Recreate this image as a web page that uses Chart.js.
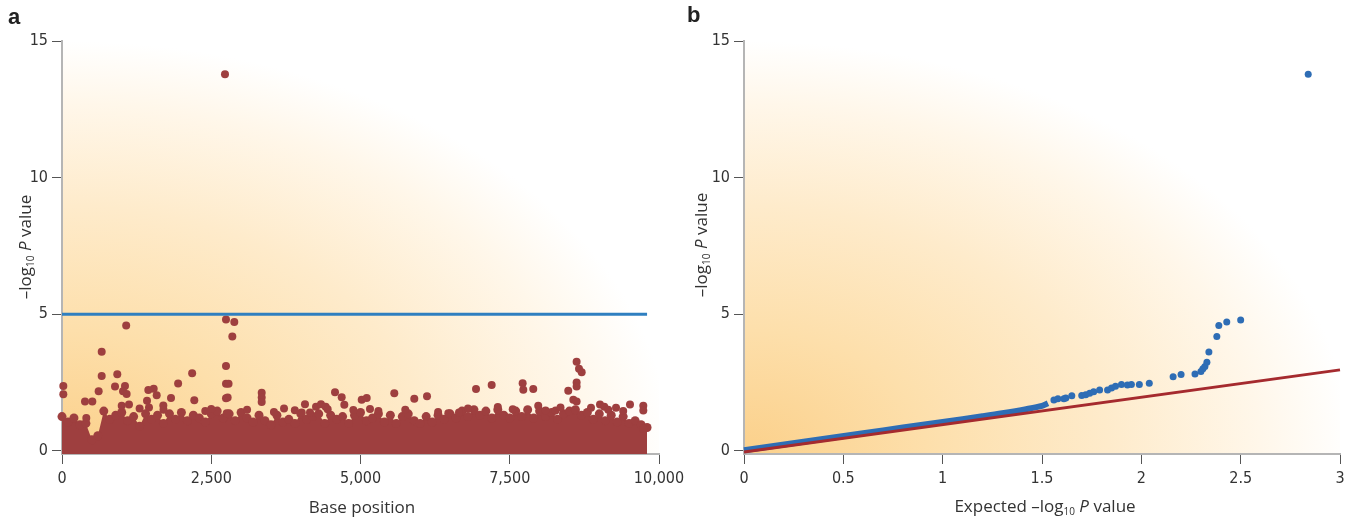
<!DOCTYPE html>
<html><head><meta charset="utf-8">
<script src="https://cdn.jsdelivr.net/npm/chart.js@4.4.1/dist/chart.umd.min.js"></script>
<style>
body{margin:0;width:1352px;height:518px;position:relative;background:#fff;overflow:hidden;font-family:'Open Sans','Liberation Sans',sans-serif;color:#333}
canvas{position:absolute;top:0}
.lbl{position:absolute;font-family:'Liberation Sans',Arial,sans-serif;font-weight:bold;font-size:22px;color:#222;line-height:1}
.ttl{position:absolute;font-size:17px;white-space:nowrap;color:#333;line-height:1}
.rot{transform:translate(-50%,-50%) rotate(-90deg)}
.hor{transform:translate(-50%,-50%)}
sub{font-size:10px;vertical-align:-3px}
</style></head><body>
<canvas id="ca" width="700" height="518" style="left:0"></canvas>
<canvas id="cb" width="676" height="518" style="left:676px"></canvas>
<div class="lbl" style="left:8px;top:6px">a</div>
<div class="lbl" style="left:687px;top:4px">b</div>
<div class="ttl rot" style="left:25px;top:247px">–log<sub>10</sub> <i>P</i> value</div>
<div class="ttl rot" style="left:701px;top:245px">–log<sub>10</sub> <i>P</i> value</div>
<div class="ttl hor" style="left:362px;top:506px">Base position</div>
<div class="ttl hor" style="left:1045px;top:506px">Expected –log<sub>10</sub> <i>P</i> value</div>
<script>
// ---------- DATA ----------
const yTicks = [0, 5, 10, 15];
const xTicksA = [0, 2500, 5000, 7500, 10000];
const xTicksB = [0, 0.5, 1, 1.5, 2, 2.5, 3];
const threshold = 5;
const thresholdRange = [0, 9800];

// upper envelope of the dense band of points (every 100 bases, 0..9800)
const bandTop = [
 1.25,1.05,1.2,0.95,1.0,0.4,0.55,1.45,1.15,1.3,
 1.4,1.1,1.25,0.9,1.35,1.15,1.3,1.0,1.35,1.15,
 1.4,1.1,1.3,1.2,1.05,1.35,1.45,1.2,1.35,1.1,
 1.4,1.2,1.05,1.3,1.1,0.95,1.3,1.05,1.15,1.0,
 1.35,1.15,1.25,1.35,1.0,1.3,1.15,1.25,1.0,1.3,
 1.4,1.1,1.2,1.35,1.05,1.3,1.0,1.25,1.35,1.1,
 1.0,1.25,1.05,1.3,1.15,1.35,1.2,1.45,1.25,1.5,
 1.3,1.45,1.2,1.5,1.3,1.2,1.45,1.25,1.5,1.2,
 1.45,1.25,1.4,1.15,1.35,1.45,1.5,1.3,1.4,1.15,
 1.35,1.1,1.3,1.05,1.25,1.0,1.1,0.95,0.85
];
const bandStep = 100;

// isolated points above the band: base position / -log10 P
const outX = [2730,1075,665,2747,2886,2853,2747,2747,2790,2747,2775,2759,2180,22,22,926,665,888,1055,1022,1083,614,385,508,1446,1536,1586,1826,1945,1424,1457,1697,2216,1000,1122,407,2500,3345,3345,3345,3719,4070,4255,4338,4417,4573,4685,4729,4880,5020,5104,5159,5566,5901,6114,4015,4154,6471,6650,6935,7197,7716,7727,7894,8620,8660,8705,8620,8620,8480,8565,8620,7977,8268,8100,8861,9012,9084,9280,9514,9737,9737,9737,1300,1700,2400,3100,3550,3900,4450,5300,5750,6300,6800,7300,7550,8350,9150,9400];
const outY = [13.78,4.58,3.62,4.80,4.71,4.18,3.10,2.45,2.45,1.92,1.95,1.37,2.84,2.37,2.07,2.80,2.74,2.35,2.37,2.18,2.08,2.18,1.80,1.80,2.22,2.27,2.03,1.93,2.46,1.83,1.58,1.66,1.85,1.65,1.69,1.20,1.53,2.12,1.95,1.78,1.55,1.70,1.61,1.70,1.61,2.14,1.96,1.68,1.49,1.87,1.93,1.53,2.10,1.90,1.99,1.40,1.40,1.37,1.40,2.26,2.41,2.47,2.23,2.26,3.26,3.00,2.87,2.50,2.35,2.20,1.87,1.80,1.65,1.47,1.47,1.57,1.69,1.61,1.57,1.69,1.65,1.47,0.80,1.55,1.50,1.45,1.50,1.42,1.48,1.52,1.45,1.50,1.42,1.55,1.60,1.52,1.58,1.50,1.45];

// QQ plot
const qqBandX = [0,0.3,0.6,0.8,1.0,1.2,1.3,1.42,1.5,1.53];
const qqBandY = [0.02,0.33,0.64,0.85,1.05,1.26,1.37,1.52,1.64,1.74];
const qqX = [1.56,1.58,1.61,1.62,1.65,1.70,1.72,1.74,1.76,1.79,1.83,1.85,1.87,1.90,1.93,1.95,1.99,2.04,2.16,2.20,2.27,2.30,2.31,2.32,2.33,2.34,2.38,2.39,2.43,2.50,2.84];
const qqY = [1.86,1.90,1.90,1.93,2.01,2.02,2.05,2.10,2.16,2.22,2.22,2.30,2.36,2.42,2.41,2.42,2.42,2.47,2.71,2.79,2.81,2.90,3.00,3.08,3.24,3.61,4.18,4.58,4.71,4.79,13.78];
const refX = [0, 3];
const refY = [-0.05, 2.96];

// ---------- STYLE ----------
const tickFont = {family:"'Liberation Sans Narrow','DejaVu Sans Condensed','Roboto Condensed',sans-serif", size:16};
const tickColor = '#333';
const red = '#9e3f3f', blue = '#2f7fc0', dotBlue = '#2e6db5', lineRed = '#a52a2e';

const bgPlugin = {
  id:'bg',
  beforeDraw(chart){
    const {ctx, chartArea:ca} = chart;
    ctx.save();
    ctx.beginPath();
    ctx.rect(ca.left, ca.top, ca.right-ca.left, ca.bottom-ca.top);
    ctx.clip();
    ctx.translate(ca.left, ca.bottom);
    const rx = (ca.right-ca.left)*1.02, ry = (ca.bottom-ca.top)*1.0;
    ctx.scale(rx, ry);
    const g = ctx.createRadialGradient(0,0,0,0,0,1);
    g.addColorStop(0,'#fbd08a');
    g.addColorStop(0.3,'#fddfab');
    g.addColorStop(0.6,'#feebcb');
    g.addColorStop(0.85,'#fff7ea');
    g.addColorStop(1,'#ffffff');
    ctx.fillStyle = g;
    ctx.fillRect(0,-1.2,1.2,1.2);
    ctx.restore();
  }
};

function axisCommon(){
  return {
    grid:{display:true, drawOnChartArea:false, drawTicks:true, tickLength:10, color:'#555', lineWidth:1},
    border:{display:true, color:'#b5b5b5', width:2},
    ticks:{font:tickFont, color:tickColor, padding:4, maxRotation:0, autoSkip:false}
  };
}

function makeY(width){
  const y = axisCommon();
  return Object.assign(y, {
    type:'linear', min:-0.12, max:15,
    afterBuildTicks:s=>{ s.ticks = yTicks.map(v=>({value:v})); },
    afterFit:s=>{ s.width = width; }
  });
}

// ---------- CHART A ----------
const xa = axisCommon();
Object.assign(xa, {
  type:'linear', min:0, max:10000,
  afterBuildTicks:s=>{ s.ticks = xTicksA.map(v=>({value:v})); },
  afterFit:s=>{ s.height = 64; }
});
xa.ticks.callback = v => v.toLocaleString('en-US');
xa.ticks.padding = 5;

new Chart(document.getElementById('ca'), {
  type:'scatter',
  data:{datasets:[
    {type:'line', data:bandTop.map((v,i)=>({x:i*bandStep, y:v})), borderWidth:0, borderColor:red,
     backgroundColor:red, fill:'start', pointRadius:4.5, pointBackgroundColor:red, pointBorderWidth:0, tension:0, clip:false, order:3},
    {data:outX.map((x,i)=>({x, y:outY[i]})), pointRadius:4, pointBackgroundColor:red, pointBorderWidth:0, clip:false, order:2},
    {type:'line', data:thresholdRange.map(x=>({x, y:threshold})), borderColor:blue, borderWidth:3, pointRadius:0, fill:false, order:1}
  ]},
  options:{
    responsive:false, animation:false, devicePixelRatio:1,
    layout:{padding:{left:0, right:41, top:41, bottom:0}},
    plugins:{legend:{display:false}, tooltip:{enabled:false}},
    scales:{x:xa, y:makeY(62)}
  },
  plugins:[bgPlugin]
});

// ---------- CHART B ----------
const xb = axisCommon();
Object.assign(xb, {
  type:'linear', min:0, max:3,
  afterBuildTicks:s=>{ s.ticks = xTicksB.map(v=>({value:v})); },
  afterFit:s=>{ s.height = 64; }
});
xb.ticks.callback = v => String(v);
xb.ticks.padding = 5;

new Chart(document.getElementById('cb'), {
  type:'scatter',
  data:{datasets:[
    {type:'line', data:qqBandX.map((x,i)=>({x, y:qqBandY[i]})), borderColor:dotBlue, borderWidth:6, pointRadius:0, fill:false, tension:0.3, clip:false, order:3},
    {type:'line', data:refX.map((x,i)=>({x, y:refY[i]})), borderColor:lineRed, borderWidth:3, pointRadius:0, fill:false, clip:false, order:2},
    {data:qqX.map((x,i)=>({x, y:qqY[i]})), pointRadius:3.5, pointBackgroundColor:dotBlue, pointBorderWidth:0, clip:false, order:1}
  ]},
  options:{
    responsive:false, animation:false, devicePixelRatio:1,
    layout:{padding:{left:0, right:12, top:41, bottom:0}},
    plugins:{legend:{display:false}, tooltip:{enabled:false}},
    scales:{x:xb, y:makeY(68)}
  },
  plugins:[bgPlugin]
});
</script>
</body></html>
